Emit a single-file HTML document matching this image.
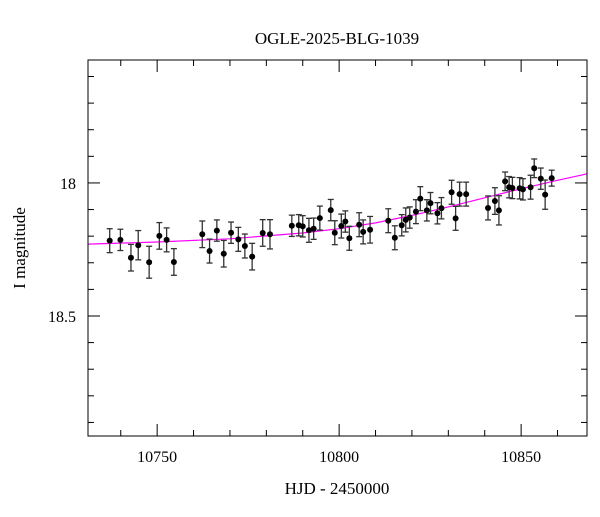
<!DOCTYPE html>
<html><head><meta charset="utf-8"><style>
html,body{margin:0;padding:0;background:#fff}
svg text{font-family:"Liberation Serif",serif;fill:#000}
</style></head><body>
<svg id="chart" width="600" height="512" xmlns="http://www.w3.org/2000/svg">
<text x="337" y="44" font-size="17" text-anchor="middle">OGLE-2025-BLG-1039</text>
<text x="337" y="494" font-size="17" text-anchor="middle">HJD - 2450000</text>
<text transform="translate(25,248) rotate(-90)" font-size="17" text-anchor="middle">I magnitude</text>
<g id="axes"></g><g id="model"></g><g id="points"></g>
<rect x="88" y="60" width="499" height="376" fill="none" stroke="#000" stroke-width="1"/>
</svg>
<script>
const hjd=[10736.96,10739.9,10742.8,10744.8,10747.8,10750.6,10752.6,10754.6,10762.4,10764.4,10766.4,10768.3,10770.3,10772.3,10774.1,10776.1,10779.0,10781.0,10787.0,10788.9,10790.0,10791.7,10793.0,10794.7,10797.7,10798.8,10800.6,10801.7,10802.8,10805.5,10806.6,10808.5,10813.5,10815.3,10817.2,10818.3,10819.4,10821.1,10822.3,10824.1,10825.1,10827.0,10828.1,10830.9,10832.0,10833.1,10834.9,10840.9,10842.8,10843.9,10845.6,10846.7,10847.6,10849.6,10850.5,10852.6,10853.6,10855.4,10856.6,10858.4];
const mag=[18.217,18.214,18.281,18.234,18.298,18.199,18.214,18.297,18.193,18.256,18.179,18.266,18.187,18.212,18.237,18.277,18.188,18.193,18.161,18.159,18.163,18.178,18.172,18.132,18.102,18.187,18.162,18.145,18.208,18.157,18.184,18.176,18.142,18.206,18.159,18.139,18.130,18.108,18.059,18.103,18.076,18.114,18.095,18.035,18.133,18.042,18.042,18.094,18.068,18.103,17.994,18.016,18.019,18.020,18.024,18.016,17.945,17.984,18.044,17.982];
const err=[0.045,0.04,0.05,0.055,0.06,0.05,0.045,0.05,0.05,0.045,0.04,0.05,0.04,0.045,0.045,0.05,0.05,0.055,0.04,0.04,0.04,0.045,0.04,0.045,0.04,0.045,0.045,0.04,0.045,0.045,0.045,0.05,0.045,0.045,0.04,0.045,0.04,0.045,0.045,0.04,0.04,0.04,0.04,0.045,0.045,0.045,0.045,0.045,0.05,0.055,0.035,0.04,0.04,0.04,0.04,0.045,0.035,0.04,0.055,0.03];
const modelHjd=[10731,10750,10770,10790,10800,10810,10820,10830,10840,10850,10860,10868];
const modelMag=[18.230,18.222,18.210,18.188,18.172,18.150,18.122,18.090,18.056,18.022,17.990,17.966];
const xTicks=[10750,10800,10850];
const yTicks=[18,18.5];
const X0=10731,X1=10868.1,Y0=17.538,Y1=18.951,L=88,R=587,T=60,B=436;
const sx=v=>L+(v-X0)/(X1-X0)*(R-L);
const sy=v=>T+(v-Y0)/(Y1-Y0)*(B-T);
const NS='http://www.w3.org/2000/svg';
function mk(t,a,p){const e=document.createElementNS(NS,t);for(const k in a)e.setAttribute(k,a[k]);p.appendChild(e);return e;}
const ax=document.getElementById('axes');
for(let v=10740;v<=10860;v+=10){const x=sx(v);const maj=xTicks.includes(v);const len=maj?12:6;
 const t1=mk('line',{x1:x,x2:x,y1:B,y2:B-len,stroke:'#000'},ax);
 
 const t2=mk('line',{x1:x,x2:x,y1:T,y2:T+len,stroke:'#000'},ax);
 }
xTicks.forEach(v=>{const t=mk('text',{x:sx(v),y:462,'font-size':16,'text-anchor':'middle'},ax);t.textContent=v;
 });
for(let i=6;i<=19;i++){const v=i/10;const mv=17+v;const y=sy(mv);if(y<T||y>B)continue;const maj=(i===10||i===15);const len=maj?12:6;
 const t1=mk('line',{x1:L,x2:L+len,y1:y,y2:y,stroke:'#000'},ax);
 
 const t2=mk('line',{x1:R,x2:R-len,y1:y,y2:y,stroke:'#000'},ax);
 }
yTicks.forEach(v=>{const t=mk('text',{x:76,y:sy(v)+6,'font-size':16,'text-anchor':'end'},ax);t.textContent=v;
 });
const mg=document.getElementById('model');
let d='';modelHjd.forEach((h,i)=>{d+=(i?'L':'M')+sx(h).toFixed(1)+','+sy(modelMag[i]).toFixed(1);});
const mp=mk('path',{d:d,fill:'none',stroke:'#ff00ff','stroke-width':1.2},mg);

const pg=document.getElementById('points');
hjd.forEach((h,i)=>{const x=sx(h),y=sy(mag[i]),y1=sy(mag[i]-err[i]),y2=sy(mag[i]+err[i]);
 const g=mk('g',{stroke:'#333','stroke-width':1.3},pg);
 
 mk('line',{x1:x,x2:x,y1:y1,y2:y2},g);
 mk('line',{x1:x-3,x2:x+3,y1:y1,y2:y1},g);
 mk('line',{x1:x-3,x2:x+3,y1:y2,y2:y2},g);
 mk('circle',{cx:x,cy:y,r:3,fill:'#000',stroke:'none'},g);});
</script>
</body></html>
